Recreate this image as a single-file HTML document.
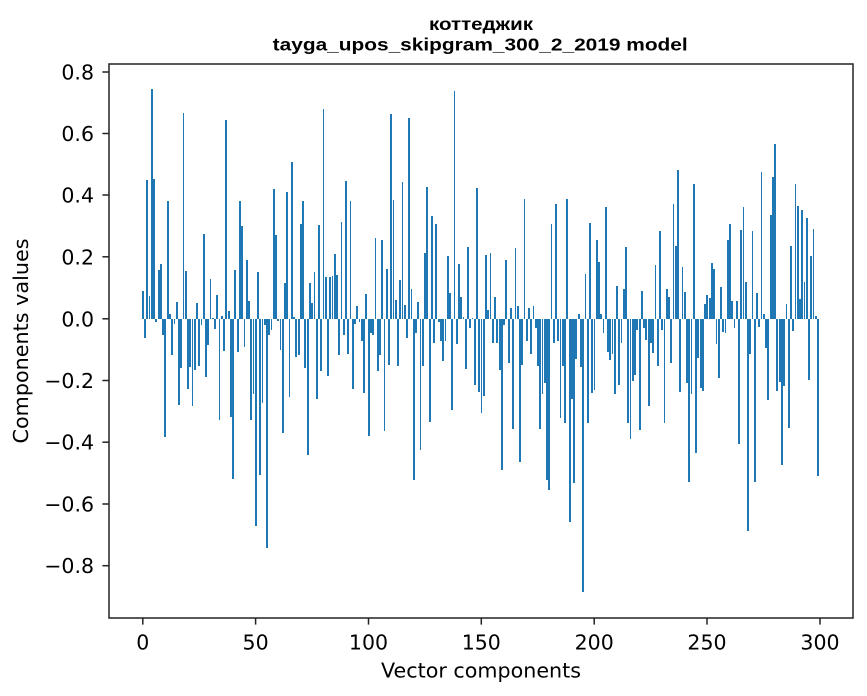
<!DOCTYPE html>
<html><head><meta charset="utf-8"><style>
html,body{margin:0;padding:0;background:#fff;}
svg{display:block;}
.tk{font-family:"DejaVu Sans","Liberation Sans",sans-serif;font-size:20.5px;fill:#000;}
.tt{font-family:"Liberation Sans","DejaVu Sans",sans-serif;font-weight:bold;font-size:17.5px;fill:#000;}
</style></head><body>
<svg id="s" width="867" height="696" viewBox="0 0 867 696" xmlns="http://www.w3.org/2000/svg">
<rect x="0" y="0" width="867" height="696" fill="#fff"/>
<g id="bars" fill="#1f77b4" shape-rendering="crispEdges"></g>
<g stroke="#222" stroke-width="1.5" fill="none">
<rect x="109" y="64" width="744" height="554"/>
<line x1="102.4" y1="72" x2="109" y2="72"/>
<line x1="102.4" y1="133.5" x2="109" y2="133.5"/>
<line x1="102.4" y1="195" x2="109" y2="195"/>
<line x1="102.4" y1="256.8" x2="109" y2="256.8"/>
<line x1="102.4" y1="318.8" x2="109" y2="318.8"/>
<line x1="102.4" y1="380.5" x2="109" y2="380.5"/>
<line x1="102.4" y1="442.2" x2="109" y2="442.2"/>
<line x1="102.4" y1="504" x2="109" y2="504"/>
<line x1="102.4" y1="565.7" x2="109" y2="565.7"/>
<line x1="142.8" y1="618" x2="142.8" y2="624.6"/>
<line x1="255.6" y1="618" x2="255.6" y2="624.6"/>
<line x1="368.5" y1="618" x2="368.5" y2="624.6"/>
<line x1="481.3" y1="618" x2="481.3" y2="624.6"/>
<line x1="594.2" y1="618" x2="594.2" y2="624.6"/>
<line x1="707" y1="618" x2="707" y2="624.6"/>
<line x1="820" y1="618" x2="820" y2="624.6"/>
</g>
<g class="tk" text-anchor="end">
<text x="94" y="79.5">0.8</text>
<text x="94" y="141">0.6</text>
<text x="94" y="202.5">0.4</text>
<text x="94" y="264.3">0.2</text>
<text x="94" y="326.3">0.0</text>
<text x="94" y="388">−0.2</text>
<text x="94" y="449.7">−0.4</text>
<text x="94" y="511.5">−0.6</text>
<text x="94" y="573.2">−0.8</text>
</g>
<g class="tk" text-anchor="middle">
<text x="142.8" y="649.5">0</text>
<text x="255.6" y="649.5">50</text>
<text x="368.5" y="649.5">100</text>
<text x="481.3" y="649.5">150</text>
<text x="594.2" y="649.5">200</text>
<text x="707" y="649.5">250</text>
<text x="820" y="649.5">300</text>
<text x="481" y="677.5" textLength="200" lengthAdjust="spacingAndGlyphs">Vector components</text>
<text transform="translate(28,341) rotate(-90)" x="0" y="0" textLength="205" lengthAdjust="spacingAndGlyphs">Components values</text>
</g>
<g class="tt" text-anchor="middle">
<text x="481" y="30" textLength="104" lengthAdjust="spacingAndGlyphs">коттеджик</text>
<text x="480.2" y="50.7" textLength="415" lengthAdjust="spacingAndGlyphs">tayga_upos_skipgram_300_2_2019 model</text>
</g>
</svg>
<script>
(function(){
var v=[0.09,-0.061,0.448,0.074,0.742,0.452,-0.009,0.158,0.177,-0.05,
-0.38,0.38,0.016,-0.115,-0.016,0.055,-0.276,-0.157,0.664,0.155,
-0.226,-0.154,-0.28,-0.163,0.052,-0.15,-0.02,0.274,-0.186,-0.083,
0.129,0.003,-0.032,0.077,-0.326,0.009,-0.102,0.642,0.026,-0.315,
-0.516,0.158,-0.105,0.38,0.3,-0.089,0.19,0.058,-0.326,-0.242,
-0.667,0.152,-0.502,-0.271,-0.018,-0.74,-0.05,-0.034,0.42,0.271,
-0.005,-0.099,-0.367,0.116,0.41,-0.25,0.506,0.006,-0.121,-0.115,
0.306,0.38,-0.157,-0.438,0.116,0.052,0.152,-0.257,0.303,-0.167,
0.677,0.135,-0.183,0.135,0.139,0.21,0.142,-0.115,0.313,-0.05,
0.445,-0.112,0.38,-0.225,-0.015,0.042,-0.009,-0.07,-0.24,0.08,
-0.376,-0.044,-0.05,0.261,-0.167,-0.115,0.255,-0.36,0.161,-0.147,
0.661,0.384,0.061,-0.15,0.126,0.442,0.045,-0.06,0.648,0.097,
-0.518,-0.044,0.055,-0.424,-0.15,0.213,0.426,-0.331,0.332,-0.076,
0.306,-0.009,-0.07,-0.134,-0.07,0.203,0.084,-0.292,0.735,-0.08,
0.177,0.071,0.006,-0.16,0.232,-0.028,0.003,-0.212,0.423,-0.234,
-0.302,-0.247,0.206,0.029,0.213,-0.076,0.071,-0.076,-0.163,-0.486,
-0.018,0.19,-0.141,0.035,-0.354,0.229,0.042,-0.462,-0.147,0.387,
-0.07,0.035,-0.112,0.042,-0.028,-0.15,-0.354,-0.241,-0.205,-0.518,
-0.55,0.306,-0.076,0.371,-0.07,-0.318,-0.15,-0.337,0.387,-0.654,
-0.257,-0.528,-0.128,0.016,-0.154,-0.88,0.145,-0.334,0.31,-0.24,
-0.228,0.255,0.184,0.016,-0.044,0.361,-0.105,-0.131,-0.112,-0.241,
0.106,-0.212,-0.076,0.097,0.232,-0.334,-0.387,-0.199,-0.18,-0.034,
-0.357,0.09,-0.028,-0.067,-0.28,-0.076,-0.109,0.174,-0.15,0.284,
-0.034,-0.337,0.097,0.071,-0.141,0.371,0.235,0.48,-0.234,0.168,
0.087,-0.205,-0.525,-0.241,0.435,-0.432,-0.125,-0.222,-0.231,0.048,
0.077,0.068,0.18,0.161,-0.08,-0.189,0.103,-0.041,-0.044,0.255,
0.306,0.058,-0.028,0.058,-0.402,0.287,0.361,0.119,-0.683,-0.112,
0.284,-0.525,0.084,-0.025,0.474,0.016,-0.092,-0.26,0.335,0.458,
0.565,-0.231,-0.202,-0.47,-0.215,0.048,-0.35,0.235,-0.038,0.435,
0.365,0.065,0.352,0.119,0.326,-0.196,0.203,0.29,0.01,-0.508];
var g=document.getElementById('bars'),ns='http://www.w3.org/2000/svg';
for(var i=0;i<v.length;i++){
 var xc=142.8+2.2583*i;
 var xa=Math.round(xc-0.903),xb=Math.round(xc+0.903);
 if(xb-xa<1)xb=xa+1;
 var yv=319-310*v[i],yz=319;
 var yt=Math.round(Math.min(yz,yv)),yb=Math.round(Math.max(yz,yv));
 if(yb-yt<1)yb=yt+1;
 var r=document.createElementNS(ns,'rect');
 r.setAttribute('x',String(xa));
 r.setAttribute('y',String(yt));
 r.setAttribute('width',String(xb-xa));
 r.setAttribute('height',String(yb-yt));
 g.appendChild(r);
}
})();
</script>
</body></html>
